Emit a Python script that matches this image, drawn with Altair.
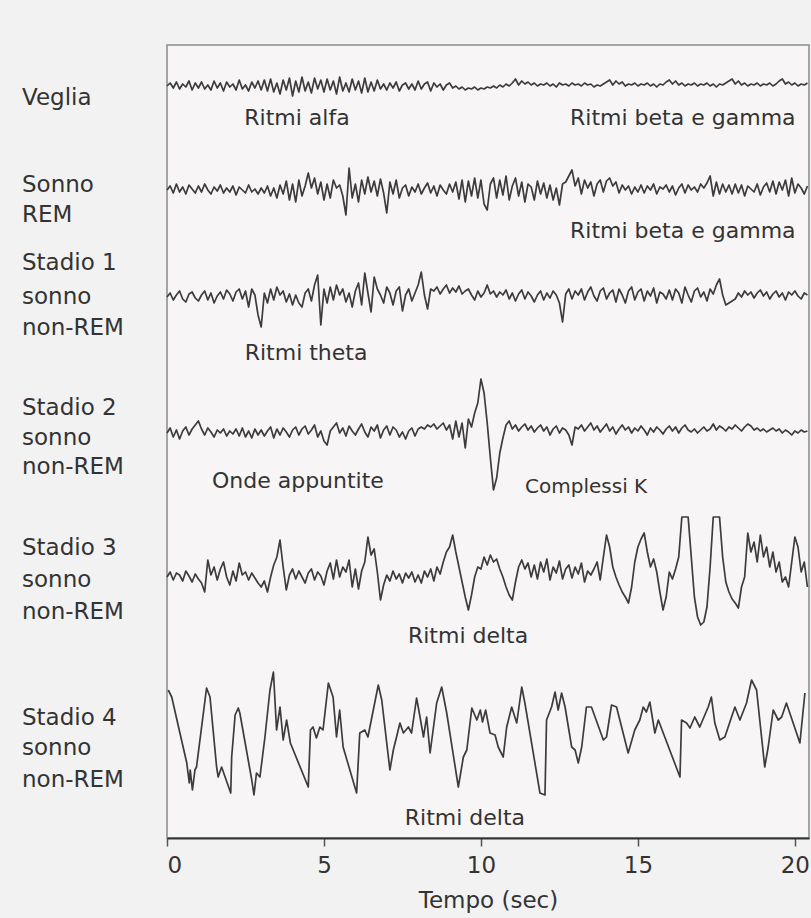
import altair as alt
import pandas as pd

DT = 0.1  # sampling step of the traces, seconds

# EEG amplitudes (arbitrary µV-like units, up = positive), one sample every DT seconds
veglia = [0, 3, -2, 4, -3, 2, -1, 5, -4, 3, -2,
          4, -3, 1, -4, 5, -2, 3, -5, 4, -1,
          2, -4, 6, -3, 1, -5, 4, -2, 5, -4,
          6, -5, 7, -6, 3, -8, 6, -4, 8, -10,
          5, -6, 9, -5, 4, -7, 8, -3, 6, -6,
          7, -4, 5, -8, 9, -5, 3, -6, 7, -4,
          5, -7, 8, -6, 4, -5, 6, -3, 2, -4,
          3, -2, 4, -5, 1, 3, -3, 2, -4, 5,
          -3, 2, 4, -5, 3, -1, 2, -4, 1, 3,
          -2, 0, -3, -1, -4, -2, -3, -1, -4, -2,
          -3, -1, -2, 0, -2, 1, -1, 2, 0, 3,
          7, 1, 5, 2, 4, 1, 3, 0, 2, 1,
          3, 0, 2, -1, 3, 1, 2, 0, 3, 1,
          2, 0, 3, 1, 2, -1, 1, 0, 2, 4,
          6, 1, 5, 2, 4, 0, 2, 1, 3, 0,
          2, 1, 3, 0, 2, -1, 2, 1, 4, 6,
          2, 5, 1, 3, 0, 2, 1, 3, 0, 2,
          1, 3, 0, 2, -1, 2, 1, 3, 5, 7,
          2, 5, 1, 3, 0, 2, 1, 3, 0, 2,
          1, 3, 0, 2, 5, 7, 2, 4, 1, 3, 0, 2, 1, 3]

rem = [0, 4, -3, 6, -2, 3, -4, 5, 1, -3, 4,
       -2, 6, 0, -4, 3, -1, 5, -3, 2, -2,
       4, -5, 3, 0, -3, 5, -2, 1, -4, 2,
       -3, 4, -6, 2, -8, 5, -4, 9, -10, 6,
       -12, 10, -6, 4, 17, 2, 12, -4, 8, -10,
       6, -8, 10, 2, 5, -6, -25, 22, -8, 6,
       -12, 10, -4, 13, -2, 9, -6, 11, -3, -23,
       8, -4, 10, -8, 2, 5, -6, 3, -2, 6,
       -4, 2, 7, -3, 4, -6, 5, 0, -4, 6,
       -2, 8, -9, 10, -12, 9, -6, 12, -8, 10,
       -14, -20, 6, 12, -8, 10, -5, 14, -10, 4,
       12, -6, 8, -12, 6, 3, -10, 9, -4, 7,
       -8, 5, -10, 2, -15, 6, 8, 14, 20, 4,
       12, -4, 10, 2, 8, -6, 6, 10, -2, 9,
       12, 4, 8, -3, 5, 0, 4, -4, 3, -2,
       5, -3, 4, 0, 6, -4, 3, 1, 5, -2,
       4, -5, 2, 6, -3, 5, 0, 3, -2, 6,
       2, 7, 14, -6, 8, -4, 6, -2, 5, -4,
       6, -3, 5, -6, 4, 1, -2, 6, -5, 3,
       7, -2, 9, -4, 8, 0, 10, -6, 12, -3, 6, 2, -4, 4]

stadio1 = [0, 4, -3, 2, 6, -2, -5, 3, 5, -1, -4,
           2, 6, -3, 4, -6, 1, 5, -2, 7, 3,
           -4, 5, 8, -2, 6, -10, 8, 2, -18, -30,
           4, -6, 8, -3, 10, 2, 6, -5, 3, -8,
           2, -6, -10, 4, 8, -4, 12, 22, -28, 8,
           -6, 10, -3, 12, 2, 8, -5, 4, -10, 6,
           14, -8, 24, 4, -15, 20, 8, 2, -6, 10,
           4, -8, 6, 10, -14, 2, 8, -4, 4, 12,
           25, 2, -12, 8, 6, 10, 3, 8, 12, 4,
           9, 5, 11, 3, 6, 8, 2, -3, 6, 0,
           4, 12, 3, 6, 0, 5, 2, 7, -2, 4,
           -4, 3, 7, -2, 5, 1, -5, 2, 6, -3,
           4, -1, 6, 2, -6, -25, 3, 8, -2, 6,
           2, 8, -3, 5, 10, 1, -4, 6, 9, -2,
           4, 7, -5, 8, 2, -6, 6, 10, -3, 5,
           8, -4, 6, 1, 9, -6, 5, 3, -2, 7,
           -3, 8, 4, -6, 10, 2, -5, 6, 9, 0,
           5, -4, 8, 3, 12, 18, 2, -8, -6, -4,
           -2, 4, 0, 6, 2, 5, -1, 4, 7, 1,
           5, -2, 3, 6, 0, 4, -3, 5, 2, 6, 1, -2, 4, 2]

stadio2 = [0, 5, -4, 3, -6, 2, 6, -2, 4, 8, 12,
           4, -2, 5, 1, -4, 3, 0, 4, -3, 2,
           -1, 4, -3, 5, -4, 2, -5, 4, -2, 3,
           -3, 2, 6, -5, 4, -2, 5, 1, -4, 3,
           6, -2, 4, 7, -1, 3, 8, -4, 2, -8,
           -12, 2, 6, 10, 0, 5, -3, 7, 2, -2,
           4, 9, 1, -4, 6, 2, 8, -5, 3, 7,
           -2, 6, 3, -4, 1, -6, 2, 5, -3, 4,
           6, 4, 8, 6, 9, 4, 7, 10, 3, 8,
           -6, 12, -4, 10, -15, 14, 6, 20, 30, 54,
           40, 10, -25, -57, -45, -20, -5, 8, 12, 4,
           8, 2, 6, 9, 3, 7, 1, 5, 8, 2,
           6, -2, 4, 7, 0, 5, 3, -2, -12, 6,
           4, 8, 2, 6, 10, 3, 7, 1, 5, 9,
           2, 6, -1, 4, 8, 3, 6, 0, 5, 2,
           7, 3, -2, 5, 1, 6, 3, -1, 4, 7,
           2, 6, 0, 5, 8, 3, 1, 4, 0, 3,
           6, 2, 4, 9, 3, 7, 5, 2, 6, 4,
           8, 5, 2, 6, 9, 7, 3, 5, 2, 4,
           1, 3, 5, 2, 4, 0, 3, 1, -2, 2, 0, 3, 1, 2]

stadio3 = [0, 5, -3, 4, 2, -4, 6, 1, -5, 3, -2,
           -6, -15, 17, 2, 10, -3, 8, 15, 0, -8,
           6, -4, 14, 2, 5, -3, 4, -1, -6, -10,
           -4, -15, 0, 12, 20, 37, 10, -13, 2, 8,
           -2, 6, 0, -6, 4, 8, -3, 5, 1, -8,
           6, 14, -2, 17, 0, 10, 5, 17, -10, 8,
           -12, 6, 15, 40, 22, 28, 5, -23, -8, 2,
           -4, 6, -2, 3, -6, 4, -1, 5, -5, 2,
           -6, 6, 0, 8, -4, 10, 3, 15, 25, 30,
           42, 25, 10, -5, -20, -33, -18, 0, 10, 8,
           20, 12, 22, 15, 18, 8, 0, -10, -18, -23,
           -5, 10, 17, 8, 14, 0, 12, -2, 15, 5,
           18, -3, 10, 4, 16, -2, 8, 12, -1, 10,
           3, 14, -5, 6, 2, 8, 15, -3, 20, 42,
           30, 10, 0, -8, -15, -20, -26, -10, 15, 30,
           38, 44, 25, 10, 18, 5, -15, -33, -20, 5,
           -2, 8, 20, 60, 60, 60, 20, -20, -40, -48,
           -45, -30, 10, 60, 60, 60, 20, -5, -15, -22,
           -26, -31, -10, 0, 44, 25, 35, 15, 42, 20,
           30, 10, 25, 5, 15, -5, 0, -10, 15, 40, 30, 5, 15, -10]

# Stadio 4: turning points (time in s, amplitude)
stadio4_t = [0.04, 0.15, 0.63, 0.71, 0.74, 0.81, 0.89, 0.94, 1.26, 1.37,
             1.58, 1.63, 1.74, 2.03, 2.06, 2.17, 2.27, 2.32, 2.70, 2.77,
             2.85, 2.96, 3.12, 3.28, 3.39, 3.49, 3.60, 3.70, 3.81, 3.93,
             4.50, 4.57, 4.65, 4.76, 4.87, 4.97, 5.14, 5.29, 5.40, 5.50,
             5.61, 6.04, 6.14, 6.30, 6.40, 6.73, 6.84, 7.10, 7.21, 7.42,
             7.53, 7.69, 7.79, 7.95, 8.06, 8.17, 8.27, 8.38, 8.59, 8.75,
             8.91, 9.28, 9.44, 9.55, 9.71, 9.87, 9.98, 10.05, 10.15, 10.29,
             10.45, 10.55, 10.71, 10.82, 10.98, 11.14, 11.30, 11.40, 11.88, 12.04,
             12.09, 12.25, 12.36, 12.46, 12.57, 12.68, 12.89, 13.00, 13.10, 13.21,
             13.36, 13.52, 13.90, 14.00, 14.16, 14.32, 14.69, 14.90, 15.06, 15.17,
             15.27, 15.38, 15.54, 15.65, 16.34, 16.39, 16.55, 16.66, 16.81, 16.97,
             17.24, 17.34, 17.45, 17.61, 17.77, 18.09, 18.25, 18.46, 18.62, 18.78,
             19.04, 19.15, 19.31, 19.47, 19.58, 19.73, 20.16, 20.32]
stadio4_uv = [50, 43, -23, -43, -30, -50, -30, -27, 52, 43,
              -27, -37, -27, -53, -17, 25, 32, 27, -40, -55,
              -33, -37, 3, 50, 68, 10, 33, 0, 20, -3,
              -47, 10, 13, 2, 13, 10, 57, 43, 3, 30,
              -7, -53, 7, 10, 3, 55, 40, -30, -10, 17,
              7, 13, 7, 42, 23, 3, 23, -13, 37, 53,
              27, -47, -17, -10, 32, 20, 30, 18, 30, 7,
              5, -7, -17, 13, 33, 17, 53, 37, -53, -55,
              20, 33, 48, 30, 47, 33, -7, -10, -23, -7,
              33, 33, 0, 3, 35, 33, -13, 10, 20, 33,
              28, 38, 7, 20, -37, 20, 17, 12, 23, 13,
              33, 43, 17, 0, 3, 33, 20, 37, 60, 50,
              -27, -7, 30, 20, 23, 37, -3, 47]

tracce = ["Veglia", "Sonno REM", "Stadio 1", "Stadio 2", "Stadio 3", "Stadio 4"]
# vertical stacking of the traces (layout only)
offset = {"Veglia": 752, "Sonno REM": 648, "Stadio 1": 541,
          "Stadio 2": 405, "Stadio 3": 261, "Stadio 4": 98}

rows = []
for name, vals in zip(tracce[:5], [veglia, rem, stadio1, stadio2, stadio3]):
    for i, v in enumerate(vals):
        rows.append({"traccia": name, "t": round(i * DT, 2), "uv": v})
for t, v in zip(stadio4_t, stadio4_uv):
    rows.append({"traccia": "Stadio 4", "t": t, "uv": v})
df = pd.DataFrame(rows)
df["pos"] = df["traccia"].map(offset) + df["uv"]

# state labels on the left
etichette = ["Veglia", "Sonno", "REM", "Stadio 1", "sonno", "non-REM",
             "Stadio 2", "sonno", "non-REM", "Stadio 3", "sonno", "non-REM",
             "Stadio 4", "sonno", "non-REM"]
etichette_pos = [740, 653, 623, 575, 541, 510, 430, 400, 371, 290, 258, 226, 120, 90, 58]
lab_df = pd.DataFrame({"testo": etichette, "pos": etichette_pos})

# rhythm annotations
note = ["Ritmi alfa", "Ritmi beta e gamma", "Ritmi beta e gamma", "Ritmi theta",
        "Onde appuntite", "Ritmi delta", "Ritmi delta"]
note_t = [4.14, 16.43, 16.43, 4.43, 4.17, 9.59, 9.49]
note_pos = [720, 720, 607, 485, 357, 202, 20]
note_df = pd.DataFrame({"testo": note, "t": note_t, "pos": note_pos})
k_df = pd.DataFrame({"testo": ["Complessi K"], "t": [13.35], "pos": [351]})

FONT = "DejaVu Sans"
INK = "#333333"

X = alt.X("t:Q", scale=alt.Scale(domain=[0, 20.45], nice=False, zero=False),
          axis=alt.Axis(values=[0, 5, 10, 15, 20], title="Tempo (sec)", grid=False,
                        format="d"))
Y = alt.Y("pos:Q", scale=alt.Scale(domain=[0, 793], nice=False, zero=False), axis=None)

lines = alt.Chart(df).mark_line(color="#3c3c3c", strokeWidth=1.7,
                                strokeJoin="round").encode(
    x=X, y=Y, detail="traccia:N", order="t:Q")

notes = alt.Chart(note_df).mark_text(font=FONT, fontSize=22, color=INK, align="center",
                                     baseline="middle").encode(x=X, y=Y, text="testo:N")
knote = alt.Chart(k_df).mark_text(font=FONT, fontSize=20, color=INK, align="center",
                                  baseline="middle").encode(x=X, y=Y, text="testo:N")
labels = alt.Chart(lab_df).mark_text(font=FONT, fontSize=23, color=INK, align="left",
                                     baseline="middle").encode(
    x=alt.value(-145), y=Y, text="testo:N")

chart = alt.layer(lines, notes, knote, labels).properties(
    width=642, height=793,
    background="#f2f2f2",
    padding={"left": 167, "top": 45, "right": 2, "bottom": 80},
    autosize=alt.AutoSizeParams(type="none"),
).configure_view(
    fill="#f7f5f5", stroke="#8a8a8a", strokeWidth=1.5
).configure_axis(
    domainColor="#333333", domainWidth=2, tickColor="#555555", tickWidth=1.5,
    tickSize=8, labelFont=FONT, labelFontSize=23, labelColor=INK, labelPadding=8,
    titleFont=FONT, titleFontSize=23, titleFontWeight="normal", titleColor=INK,
    titlePadding=12
)

chart.save("out.html", embed_options={"renderer": "svg", "actions": False})
